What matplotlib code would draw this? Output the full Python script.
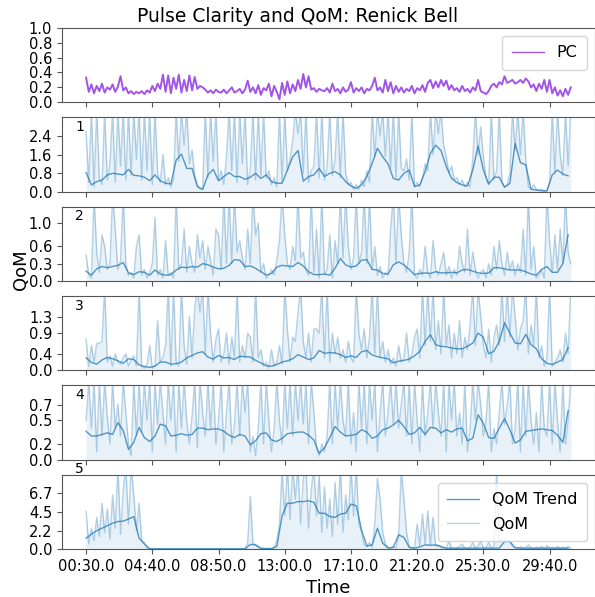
import numpy as np
import matplotlib
matplotlib.use("Agg")
import matplotlib.pyplot as plt

# ---------------- data ----------------
t_start = 30          # seconds
raw_step = 10         # seconds between raw samples
trend_step = 20       # seconds between trend samples

pc = [0.33, 0.14, 0.24, 0.12, 0.22, 0.15, 0.25, 0.13, 0.20, 0.17,
      0.24, 0.14, 0.21, 0.35, 0.16, 0.20, 0.12, 0.15, 0.11, 0.14,
      0.12, 0.15, 0.11, 0.16, 0.13, 0.22, 0.15, 0.25, 0.18, 0.37,
      0.14, 0.36, 0.12, 0.33, 0.18, 0.37, 0.13, 0.30, 0.15, 0.36,
      0.16, 0.34, 0.18, 0.22, 0.20, 0.17, 0.13, 0.16, 0.12, 0.17,
      0.14, 0.13, 0.17, 0.12, 0.16, 0.20, 0.13, 0.15, 0.18, 0.12,
      0.17, 0.29, 0.14, 0.20, 0.12, 0.23, 0.10, 0.19, 0.16, 0.25,
      0.08, 0.22, 0.14, 0.04, 0.26, 0.10, 0.28, 0.12, 0.24, 0.15,
      0.30, 0.18, 0.38, 0.20, 0.35, 0.17, 0.19, 0.14, 0.18, 0.16,
      0.15, 0.19, 0.13, 0.25, 0.15, 0.18, 0.12, 0.20, 0.14, 0.17,
      0.27, 0.13, 0.19, 0.15, 0.20, 0.12, 0.18, 0.16, 0.22, 0.33,
      0.16, 0.20, 0.13, 0.30, 0.15, 0.27, 0.12, 0.22, 0.14, 0.20,
      0.13, 0.18, 0.15, 0.22, 0.12, 0.19, 0.16, 0.23, 0.14, 0.26,
      0.30, 0.19, 0.28, 0.20, 0.30, 0.22, 0.29, 0.17, 0.23, 0.16,
      0.19, 0.14, 0.22, 0.15, 0.18, 0.13, 0.20, 0.16, 0.30, 0.15,
      0.13, 0.11, 0.15, 0.22, 0.25, 0.20, 0.27, 0.24, 0.35, 0.26,
      0.28, 0.30, 0.25, 0.27, 0.30, 0.26, 0.32, 0.28, 0.20, 0.24,
      0.15, 0.25, 0.18, 0.30, 0.14, 0.30, 0.12, 0.20, 0.09, 0.16,
      0.08, 0.18, 0.10, 0.20]

qom1 = [2.6, 0.4, 3.5, 0.2, 3.5, 0.6, 0.3, 3.5, 0.5, 1.2,
        3.5, 0.4, 3.5, 1.1, 3.5, 0.5, 3.5, 0.7, 3.5, 1.4,
        3.5, 0.5, 3.5, 0.9, 3.5, 0.3, 3.5, 0.8, 0.4, 1.6,
        0.3, 0.6, 0.2, 0.5, 3.5, 1.3, 3.5, 2.0, 3.5, 1.2,
        1.8, 0.7, 0.3, 0.1, 0.1, 3.5, 0.6, 3.5, 1.3, 3.5,
        0.5, 0.9, 0.3, 1.5, 3.5, 0.9, 3.5, 0.4, 3.5, 1.2,
        3.5, 0.3, 1.0, 3.5, 0.5, 3.5, 0.7, 3.5, 0.6, 0.9,
        0.3, 0.6, 0.2, 3.5, 0.4, 3.5, 0.9, 1.4, 2.2, 3.5,
        2.5, 3.5, 0.8, 3.5, 0.4, 0.9, 1.1, 3.5, 0.6, 3.5,
        0.5, 1.1, 3.5, 0.7, 1.4, 3.5, 0.6, 3.5, 0.8, 0.3,
        0.4, 0.1, 0.3, 0.1, 0.5, 0.2, 0.9, 0.4, 3.5, 1.5,
        3.5, 2.4, 3.5, 1.5, 3.5, 1.0, 3.5, 0.6, 3.5, 1.0,
        0.9, 1.4, 0.5, 3.5, 0.2, 0.4, 0.2, 0.6, 1.2, 0.9,
        3.5, 1.6, 3.5, 2.5, 3.5, 2.0, 1.5, 0.8, 1.1, 0.5,
        0.6, 0.3, 0.5, 0.2, 0.4, 0.2, 1.4, 3.5, 1.6, 2.8,
        1.5, 0.6, 0.3, 3.5, 0.5, 0.9, 3.5, 0.4, 0.2, 0.3,
        0.8, 3.5, 1.8, 3.5, 1.6, 3.5, 1.4, 0.2, 0.1, 0.3,
        0.1, 0.05, 0.1, 0.02, 0.05, 0.4, 3.5, 0.8, 3.5, 1.6,
        0.7, 3.5, 1.1, 3.5]
trend1 = [0.82, 0.29, 0.43, 0.50, 0.72, 0.79, 0.76, 0.72, 0.96, 0.70,
          0.68, 0.62, 0.47, 0.72, 0.47, 0.36, 0.33, 1.36, 1.62, 1.00,
          1.00, 0.22, 0.10, 0.72, 0.96, 0.47, 0.65, 0.82, 0.65, 0.65,
          0.53, 0.62, 0.79, 0.57, 0.72, 0.43, 0.36, 0.36, 0.93, 1.50,
          1.77, 0.45, 0.65, 0.72, 1.00, 0.65, 0.79, 0.86, 0.72, 0.43,
          0.24, 0.14, 0.29, 0.65, 1.22, 1.87, 1.50, 1.20, 0.57, 0.50,
          0.79, 0.93, 0.22, 0.29, 0.86, 1.65, 2.00, 1.77, 1.08, 0.57,
          0.39, 0.29, 0.24, 0.93, 1.97, 0.93, 0.33, 0.62, 0.62, 0.19,
          0.36, 2.08, 1.25, 1.15, 0.10, 0.07, 0.04, 0.03, 0.72, 0.93,
          0.76, 0.68]

qom2 = [0.45, 0.1, 0.05, 1.5, 0.5, 0.15, 0.8, 0.6, 0.2, 0.3,
        1.5, 0.9, 0.2, 0.35, 1.5, 0.3, 0.1, 0.15, 0.05, 0.6,
        0.8, 0.1, 0.2, 0.05, 0.15, 0.3, 1.1, 0.1, 0.2, 0.05,
        0.7, 0.1, 0.15, 0.05, 1.5, 0.2, 0.3, 0.9, 0.15, 0.6,
        0.3, 0.15, 0.8, 0.4, 0.7, 0.2, 0.6, 0.35, 0.1, 0.9,
        0.8, 0.2, 1.5, 0.3, 1.5, 0.3, 1.5, 0.5, 0.7, 0.4,
        0.2, 0.9, 0.3, 1.5, 0.8, 1.0, 0.15, 0.3, 0.05, 0.1,
        0.2, 0.1, 0.35, 0.7, 1.5, 0.8, 0.3, 0.2, 0.6, 0.35,
        1.5, 0.4, 0.5, 0.2, 0.1, 1.5, 0.15, 0.9, 0.05, 1.5,
        0.1, 0.2, 0.8, 0.05, 0.7, 0.3, 1.5, 0.4, 1.5, 0.6,
        0.2, 0.4, 1.5, 0.3, 0.5, 1.5, 0.3, 1.5, 0.2, 0.6,
        0.1, 0.25, 0.05, 0.15, 0.1, 0.9, 1.5, 0.3, 1.5, 0.8,
        0.3, 0.15, 0.5, 1.5, 0.1, 0.05, 0.2, 0.1, 0.6, 0.15,
        0.05, 0.7, 0.2, 0.1, 0.3, 0.5, 0.1, 0.25, 0.05, 0.2,
        0.1, 0.6, 0.3, 0.15, 0.9, 0.1, 0.5, 0.2, 0.05, 0.15,
        0.2, 0.05, 0.3, 0.1, 0.6, 0.2, 0.7, 0.3, 0.1, 0.5,
        0.2, 0.35, 0.1, 0.3, 0.15, 0.9, 0.1, 1.5, 0.2, 0.6,
        0.05, 0.1, 0.2, 0.05, 1.5, 0.7, 0.15, 0.8, 0.2, 0.9,
        0.3, 1.5, 0.5, 0.3]
trend2 = [0.17, 0.10, 0.21, 0.25, 0.23, 0.25, 0.27, 0.32, 0.14, 0.11,
          0.16, 0.15, 0.10, 0.19, 0.12, 0.10, 0.11, 0.19, 0.24, 0.23,
          0.25, 0.24, 0.30, 0.28, 0.24, 0.21, 0.22, 0.27, 0.37, 0.36,
          0.25, 0.26, 0.22, 0.16, 0.10, 0.13, 0.24, 0.27, 0.26, 0.25,
          0.32, 0.26, 0.16, 0.11, 0.11, 0.12, 0.10, 0.22, 0.39, 0.28,
          0.24, 0.26, 0.36, 0.37, 0.20, 0.19, 0.13, 0.12, 0.28, 0.33,
          0.28, 0.20, 0.11, 0.13, 0.14, 0.13, 0.16, 0.14, 0.14, 0.15,
          0.14, 0.19, 0.20, 0.17, 0.14, 0.13, 0.14, 0.23, 0.23, 0.21,
          0.19, 0.19, 0.19, 0.16, 0.12, 0.10, 0.20, 0.25, 0.15, 0.15,
          0.30, 0.80]

qom3 = [0.75, 0.1, 0.6, 0.2, 0.65, 0.65, 0.7, 2.0, 0.2, 0.35,
        0.1, 0.4, 0.2, 0.15, 0.3, 0.4, 0.1, 0.25, 0.35, 0.1,
        2.0, 0.1, 0.05, 0.15, 0.6, 0.05, 0.1, 1.2, 0.2, 0.3,
        0.6, 2.0, 0.1, 2.0, 0.2, 0.1, 2.0, 0.6, 0.15, 1.3,
        0.3, 1.5, 2.0, 1.4, 2.0, 0.4, 2.0, 0.9, 0.2, 0.75,
        1.0, 0.2, 0.4, 0.9, 0.15, 0.8, 0.3, 2.0, 0.2, 0.6,
        0.3, 0.9, 0.8, 0.2, 2.0, 0.3, 0.5, 0.1, 0.2, 0.05,
        0.5, 0.1, 0.2, 0.6, 0.15, 2.0, 1.0, 0.2, 0.8, 0.7,
        1.4, 2.0, 0.7, 0.3, 0.9, 0.2, 1.0, 1.0, 0.9, 2.0,
        0.3, 2.0, 0.2, 0.9, 0.4, 0.8, 0.3, 0.5, 0.2, 0.7,
        0.3, 0.2, 2.0, 0.9, 0.5, 1.0, 0.3, 0.8, 2.0, 0.4,
        2.0, 0.3, 0.7, 0.2, 0.5, 0.15, 0.3, 0.1, 0.6, 0.2,
        0.3, 0.9, 0.2, 0.4, 0.8, 1.0, 0.3, 2.0, 0.6, 2.0,
        0.7, 2.0, 0.5, 1.2, 0.4, 2.0, 0.6, 1.1, 0.3, 0.9,
        0.4, 1.2, 0.3, 0.8, 0.5, 1.1, 2.0, 0.6, 2.0, 1.3,
        0.6, 0.3, 1.0, 0.2, 0.8, 1.1, 0.6, 2.0, 0.7, 2.0,
        0.8, 2.0, 1.3, 0.5, 1.0, 1.2, 2.0, 0.4, 1.1, 0.6,
        2.0, 0.3, 0.6, 0.1, 0.3, 2.0, 0.1, 0.2, 0.3, 0.5,
        0.2, 0.9, 0.4, 2.0]
trend3 = [0.30, 0.19, 0.15, 0.25, 0.31, 0.28, 0.23, 0.17, 0.28, 0.26,
          0.13, 0.09, 0.07, 0.10, 0.20, 0.20, 0.15, 0.16, 0.20, 0.30,
          0.36, 0.42, 0.45, 0.32, 0.27, 0.36, 0.30, 0.31, 0.26, 0.34,
          0.33, 0.32, 0.24, 0.18, 0.11, 0.10, 0.14, 0.20, 0.23, 0.28,
          0.38, 0.32, 0.26, 0.30, 0.48, 0.41, 0.43, 0.42, 0.38, 0.31,
          0.35, 0.31, 0.45, 0.48, 0.37, 0.33, 0.30, 0.28, 0.18, 0.22,
          0.24, 0.27, 0.35, 0.46, 0.70, 0.86, 0.62, 0.58, 0.57, 0.54,
          0.52, 0.52, 0.58, 0.66, 0.90, 0.80, 0.40, 0.46, 0.70, 1.15,
          0.90, 0.66, 0.64, 0.87, 0.62, 0.52, 0.28, 0.17, 0.14, 0.20,
          0.26, 0.55]

qom4 = [0.5, 1.0, 0.4, 1.0, 0.1, 1.0, 0.3, 1.0, 0.55, 0.2,
        1.0, 0.4, 0.7, 0.3, 1.0, 0.6, 0.2, 0.05, 1.0, 0.3,
        1.0, 0.35, 1.0, 0.5, 1.0, 0.1, 1.0, 0.45, 1.0, 0.6,
        0.2, 1.0, 0.5, 1.0, 0.1, 1.0, 0.4, 1.0, 0.5, 0.2,
        0.55, 1.0, 0.15, 1.0, 0.6, 0.3, 1.0, 0.4, 1.0, 0.2,
        0.5, 1.0, 0.1, 0.6, 1.0, 0.2, 0.45, 1.0, 0.3, 1.0,
        0.6, 1.0, 0.1, 0.3, 0.05, 0.4, 1.0, 0.2, 1.0, 0.5,
        0.1, 0.4, 1.0, 0.5, 0.2, 1.0, 0.4, 1.0, 0.3, 1.0,
        0.5, 1.0, 0.45, 1.0, 0.2, 1.0, 0.6, 0.15, 0.05, 0.2,
        0.1, 0.3, 1.0, 0.2, 1.0, 0.4, 1.0, 0.5, 0.3, 1.0,
        0.2, 0.6, 0.1, 1.0, 0.4, 1.0, 0.2, 1.0, 0.5, 1.0,
        0.1, 0.6, 1.0, 0.3, 0.6, 1.0, 0.45, 1.0, 0.4, 0.7,
        1.0, 0.3, 1.0, 0.2, 1.0, 0.5, 0.1, 1.0, 0.3, 0.6,
        1.0, 0.4, 1.0, 0.6, 0.3, 1.0, 0.1, 1.0, 0.5, 1.0,
        0.3, 0.6, 0.2, 1.0, 0.1, 0.4, 1.0, 0.5, 1.0, 0.7,
        0.3, 0.5, 1.0, 0.1, 0.4, 0.2, 0.6, 1.0, 0.45, 0.7,
        1.0, 0.2, 0.4, 1.0, 0.1, 1.0, 0.3, 1.0, 0.5, 0.2,
        0.6, 0.1, 1.0, 0.4, 0.3, 1.0, 0.2, 1.0, 0.5, 0.1,
        1.0, 0.2, 0.5, 1.0]
trend4 = [0.36, 0.30, 0.30, 0.32, 0.34, 0.32, 0.47, 0.37, 0.13, 0.22,
          0.41, 0.28, 0.23, 0.30, 0.45, 0.43, 0.30, 0.31, 0.33, 0.31,
          0.32, 0.40, 0.40, 0.38, 0.39, 0.39, 0.36, 0.31, 0.28, 0.32,
          0.30, 0.19, 0.24, 0.33, 0.34, 0.25, 0.23, 0.27, 0.33, 0.34,
          0.35, 0.35, 0.31, 0.25, 0.08, 0.15, 0.28, 0.42, 0.35, 0.30,
          0.31, 0.32, 0.38, 0.35, 0.27, 0.30, 0.38, 0.40, 0.44, 0.50,
          0.42, 0.32, 0.34, 0.41, 0.32, 0.41, 0.40, 0.34, 0.38, 0.35,
          0.39, 0.40, 0.24, 0.27, 0.57, 0.46, 0.28, 0.27, 0.40, 0.52,
          0.38, 0.21, 0.25, 0.36, 0.37, 0.38, 0.39, 0.38, 0.37, 0.31,
          0.22, 0.62]

qom5 = [4.5, 0.6, 2.5, 1.0, 3.8, 1.5, 5.5, 2.0, 4.8, 1.2,
        6.5, 2.5, 10, 1.8, 7.0, 10, 3.0, 10, 6.5, 2.2,
        5.5, 1.0, 0.8, 0.1, 0, 0, 0, 0, 0, 0,
        0, 0, 0, 0, 0, 0, 0, 0, 0, 0,
        0, 0, 0, 0, 0, 0, 0, 0, 0, 0,
        0, 0, 0, 0, 0, 0, 0, 0, 0, 0,
        0, 0.8, 6.3, 0.7, 0.5, 0.2, 0, 0.05, 0, 0.1,
        0, 0.2, 1.0, 3.0, 9.5, 4.0, 10, 3.5, 10, 6.0,
        10, 3.0, 8.5, 10, 2.5, 7.0, 10, 4.0, 9.0, 2.0,
        7.5, 2.5, 6.0, 1.5, 8.0, 3.0, 10, 2.0, 6.5, 3.5,
        10, 4.0, 10, 3.0, 2.0, 0.5, 0.3, 0.8, 0.2, 3.0,
        8.5, 6.0, 2.0, 0.6, 0.2, 0.1, 0.3, 0.1, 1.5, 9.5,
        6.0, 2.0, 0.3, 0.1, 0.2, 3.0, 0.4, 4.2, 0.6, 4.6,
        0.5, 3.8, 0.3, 0.5, 0.2, 0.1, 0.1, 1.0, 0.1, 0.05,
        0.1, 0.3, 0.6, 0.1, 0.05, 0.2, 0.8, 0.1, 0.3, 1.0,
        0.1, 0.2, 0.8, 0.1, 0.3, 9.5, 1.2, 0.9, 1.2, 1.0,
        0.9, 0.3, 0.2, 0.05, 0.3, 0.1, 0.2, 0.5, 0.1, 0.05,
        0.2, 0.1, 0.3, 0.05, 0.4, 0.1, 0.2, 0.1, 0.3, 0.05,
        0.2, 0.1, 0.3, 0.1]
trend5 = [1.29, 1.8, 2.2, 2.5, 2.8, 3.1, 3.3, 3.35, 3.6, 3.9,
          1.3, 0.6, 0.03, 0.02, 0.02, 0.02, 0.02, 0.02, 0.02, 0.02,
          0.02, 0.02, 0.02, 0.02, 0.02, 0.02, 0.02, 0.02, 0.02, 0.02,
          0.02, 0.55, 0.5, 0.1, 0.05, 0.05, 0.3, 4.0, 5.5, 5.5,
          5.7, 5.7, 5.8, 5.6, 4.3, 4.3, 3.9, 3.8, 4.2, 4.3,
          5.4, 5.2, 2.3, 0.35, 0.5, 2.5, 0.7, 0.12, 0.2, 1.7,
          1.4, 0.2, 0.1, 0.25, 0.5, 0.45, 0.5, 0.3, 0.1, 0.1,
          0.1, 0.1, 0.1, 0.1, 0.1, 0.1, 0.1, 0.1, 0.1, 0.9,
          0.9, 0.15, 0.1, 0.1, 0.1, 0.1, 0.1, 0.1, 0.1, 0.1,
          0.1, 0.1]

qom_raw = [qom1, qom2, qom3, qom4, qom5]
qom_trend = [trend1, trend2, trend3, trend4, trend5]
panel_names = ["1", "2", "3", "4", "5"]
y_tops = [3.21, 1.29, 1.80, 0.945, 8.95]
y_ticks = [[0.0, 0.8, 1.6, 2.4], [0.0, 0.3, 0.6, 1.0], [0.0, 0.4, 0.9, 1.3],
           [0.0, 0.2, 0.5, 0.7], [0.0, 2.2, 4.5, 6.7]]
pc_ticks = [0.0, 0.2, 0.4, 0.6, 0.8, 1.0]
x_tick_secs = [30, 280, 530, 780, 1030, 1280, 1530, 1780]
x_tick_labels = ["00:30.0", "04:40.0", "08:50.0", "13:00.0", "17:10.0",
                 "21:20.0", "25:30.0", "29:40.0"]

# ---------------- figure ----------------
fig, axes = plt.subplots(6, 1, sharex=True, figsize=(5.95, 5.97), dpi=100,
                         gridspec_kw=dict(left=0.104, right=1.0, bottom=0.0804,
                                          top=0.9534, hspace=0.2))
spine_col = "#555555"
for ax in axes:
    for s in ax.spines.values():
        s.set_color(spine_col)
    ax.tick_params(labelsize=10.5, color=spine_col, length=3.5)

ax = axes[0]
t_pc = t_start + raw_step * np.arange(len(pc))
ax.plot(t_pc, pc, color="#a155e8", lw=1.4, label="PC")
ax.set_ylim(0, 1.0)
ax.set_yticks(pc_ticks, [f"{v:.1f}" for v in pc_ticks])
leg = ax.legend(loc="upper right", fontsize=11.5, borderpad=0.6)
for h in leg.get_lines():
    h.set_linewidth(1.0)
fig.suptitle("Pulse Clarity and QoM: Renick Bell", fontsize=13.5, x=0.5, y=0.988)

for k in range(5):
    ax = axes[k + 1]
    raw = np.array(qom_raw[k], dtype=float)
    tr = qom_trend[k]
    t_raw = t_start + raw_step * np.arange(len(raw))
    t_tr = t_start + trend_step * np.arange(len(tr))
    ax.fill_between(t_raw, 0, raw, color="C0", alpha=0.1, lw=0, zorder=1)
    ax.plot(t_tr, tr, color="C0", alpha=0.75, lw=1.0, label="QoM Trend", zorder=3)
    ax.plot(t_raw, raw, color="C0", alpha=0.33, lw=1.0, label="QoM", zorder=2)
    ax.set_ylim(0, y_tops[k])
    ax.set_yticks(y_ticks[k], [f"{v:.1f}" for v in y_ticks[k]])
    ty = 0.87 if k < 4 else 1.08
    ax.text(0.025, ty, panel_names[k], transform=ax.transAxes, fontsize=10,
            va="center", ha="left")

axes[-1].legend(loc="upper right", fontsize=11.5, borderpad=0.6, labelspacing=0.6)
axes[-1].set_xticks(x_tick_secs, x_tick_labels)
axes[-1].set_xlabel("Time", fontsize=13)
fig.text(0.035, 0.548, "QoM", rotation=90, fontsize=13, va="center", ha="center")

fig.savefig("out.png", dpi=100)
